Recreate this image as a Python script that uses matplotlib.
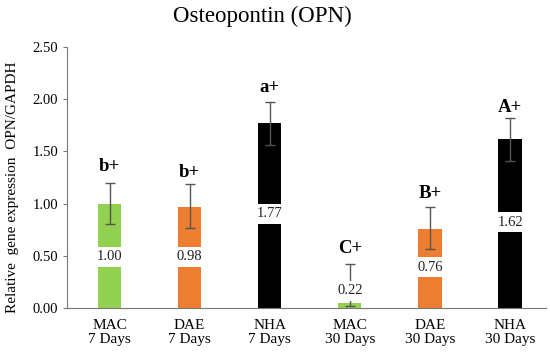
import matplotlib
matplotlib.use("Agg")
import matplotlib.pyplot as plt
import numpy as np

plt.rcParams['font.family'] = ['Liberation Serif', 'DejaVu Serif']

categories = ["MAC\n7 Days", "DAE\n7 Days", "NHA\n7 Days", "MAC\n30 Days", "DAE\n30 Days", "NHA\n30 Days"]
bar_values = [1.00, 0.97, 1.77, 0.05, 0.76, 1.62]
value_labels = ["1.00", "0.98", "1.77", "0.22", "0.76", "1.62"]
err_low = [0.80, 0.77, 1.565, 0.02, 0.56, 1.41]
err_high = [1.20, 1.19, 1.97, 0.42, 0.965, 1.82]
label_pos = [0.49, 0.49, 0.90, 0.165, 0.39, 0.82]
letters = ["b+", "b+", "a+", "C+", "B+", "A+"]
letter_pos = [1.36, 1.30, 2.11, 0.57, 1.10, 1.92]
colors = ["#92D050", "#ED7D31", "#000000", "#92D050", "#ED7D31", "#000000"]
yticks = [0.0, 0.5, 1.0, 1.5, 2.0, 2.5]

fig = plt.figure(figsize=(5.5, 3.55), dpi=100)
ax = fig.add_axes([0.122, 0.133, 0.871, 0.734])
x = np.arange(len(categories))
ax.bar(x, bar_values, width=0.29, color=colors, zorder=1)
yerr = [np.array(bar_values) - np.array(err_low), np.array(err_high) - np.array(bar_values)]
ax.errorbar(x, bar_values, yerr=yerr, fmt='none', ecolor='#555555', elinewidth=1, capsize=3.5, capthick=1, zorder=2)
for xi, lab, lp in zip(x, value_labels, label_pos):
    ax.text(xi, lp, lab, ha='center', va='center', fontsize=10.5, color='#222222', zorder=3,
            bbox=dict(facecolor='white', edgecolor='none', pad=2.5))
for xi, lt, lp in zip(x, letters, letter_pos):
    ax.text(xi, lp, lt, ha='center', va='center', fontsize=13.5, fontweight='bold', zorder=3)

ax.set_xlim(-0.53, 5.45)
ax.set_ylim(0, 2.5)
ax.set_yticks(yticks)
ax.set_yticklabels([f"{v:.2f}" for v in yticks], fontsize=10.5)
ax.set_xticks(x)
ax.set_xticklabels(categories, fontsize=11, linespacing=1.15)
ax.tick_params(axis='x', length=0, pad=8)
ax.tick_params(axis='y', length=3, color='#777777')
for s in ['top', 'right']:
    ax.spines[s].set_visible(False)
for s in ['left', 'bottom']:
    ax.spines[s].set_color('#777777')
ax.set_ylabel("Relative  gene expression  OPN/GAPDH", fontsize=11)
ax.yaxis.set_label_coords(-0.10, 0.462)
fig.text(0.477, 0.955, "Osteopontin (OPN)", ha='center', va='center', fontsize=16.5)
fig.savefig("out.png", dpi=100)
